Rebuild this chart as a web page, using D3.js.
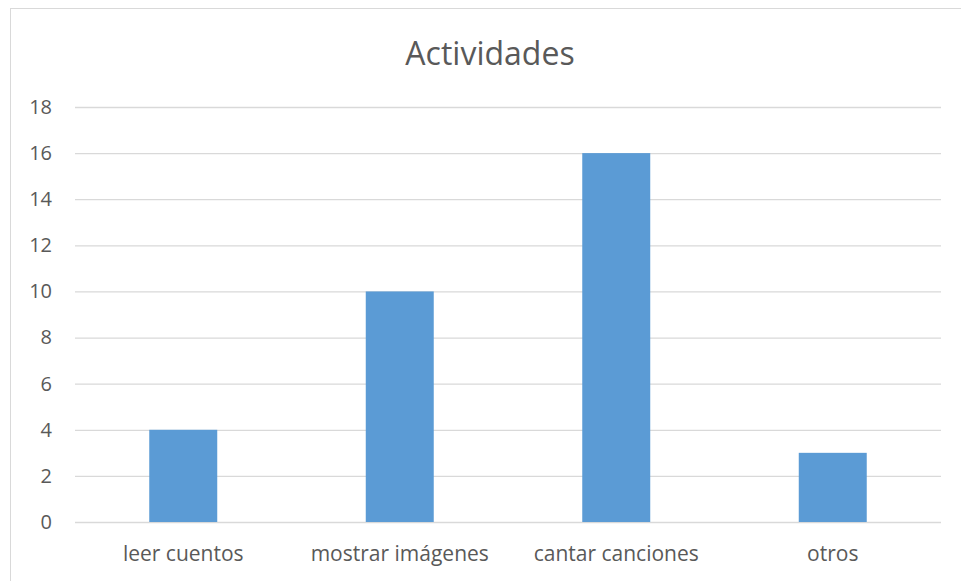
<!DOCTYPE html>
<html>
<head>
<meta charset="utf-8">
<script src="https://cdn.jsdelivr.net/npm/d3@7"></script>
<style>
  body { margin: 0; background: #fff; }
  svg { display: block; }
</style>
</head>
<body>
<svg id="chart"></svg>
<script>
const categories = ['leer cuentos', 'mostrar imágenes', 'cantar canciones', 'otros'];
const values = [4, 10, 16, 3];
const yTicks = [0, 2, 4, 6, 8, 10, 12, 14, 16, 18];
const title = 'Actividades';

const width = 961;
const height = 581;
const margin = { top: 107, right: 20, bottom: 59, left: 75 };
const font = '"Open Sans", "Noto Sans", sans-serif';
const textColor = '#595959';

const svg = d3.select('#chart').attr('width', width).attr('height', height);

// chart border
svg.append('rect')
  .attr('x', 10.5)
  .attr('y', 8.5)
  .attr('width', width)
  .attr('height', height)
  .attr('fill', 'none')
  .attr('stroke', '#d9d9d9')
  .attr('stroke-width', 1);

const xScale = d3.scaleBand()
  .domain(categories)
  .range([margin.left, width - margin.right])
  .paddingInner(0.686)
  .paddingOuter(0.343);

const yScale = d3.scaleLinear()
  .domain([0, 18])
  .range([height - margin.bottom, margin.top]);

// gridlines
const yAxis = d3.axisLeft(yScale)
  .tickValues(yTicks)
  .tickSize(-(width - margin.left - margin.right))
  .tickPadding(23);

const gy = svg.append('g')
  .attr('transform', 'translate(' + margin.left + ',0)')
  .call(yAxis);
gy.select('.domain').remove();
gy.selectAll('line')
  .attr('stroke', '#d9d9d9')
  .attr('stroke-width', 1.3);
gy.selectAll('text')
  .attr('fill', textColor)
  .style('font-family', font)
  .style('font-size', '20px');

// bars
svg.selectAll('rect.bar')
  .data(values)
  .enter()
  .append('rect')
  .attr('class', 'bar')
  .attr('x', (d, i) => xScale(categories[i]))
  .attr('y', (d) => yScale(d))
  .attr('width', xScale.bandwidth())
  .attr('height', (d) => yScale(0) - yScale(d))
  .attr('fill', '#5b9bd5');

// x axis labels
const xAxis = d3.axisBottom(xScale).tickSize(0).tickPadding(24);
const gx = svg.append('g')
  .attr('transform', 'translate(0,' + (height - margin.bottom) + ')')
  .call(xAxis);
gx.select('.domain').remove();
gx.selectAll('text')
  .attr('fill', textColor)
  .style('font-family', font)
  .style('font-size', '21px');

// title
svg.append('text')
  .attr('x', 490)
  .attr('y', 65)
  .attr('text-anchor', 'middle')
  .attr('fill', textColor)
  .style('font-family', font)
  .style('font-size', '32px')
  .text(title);
</script>
</body>
</html>
